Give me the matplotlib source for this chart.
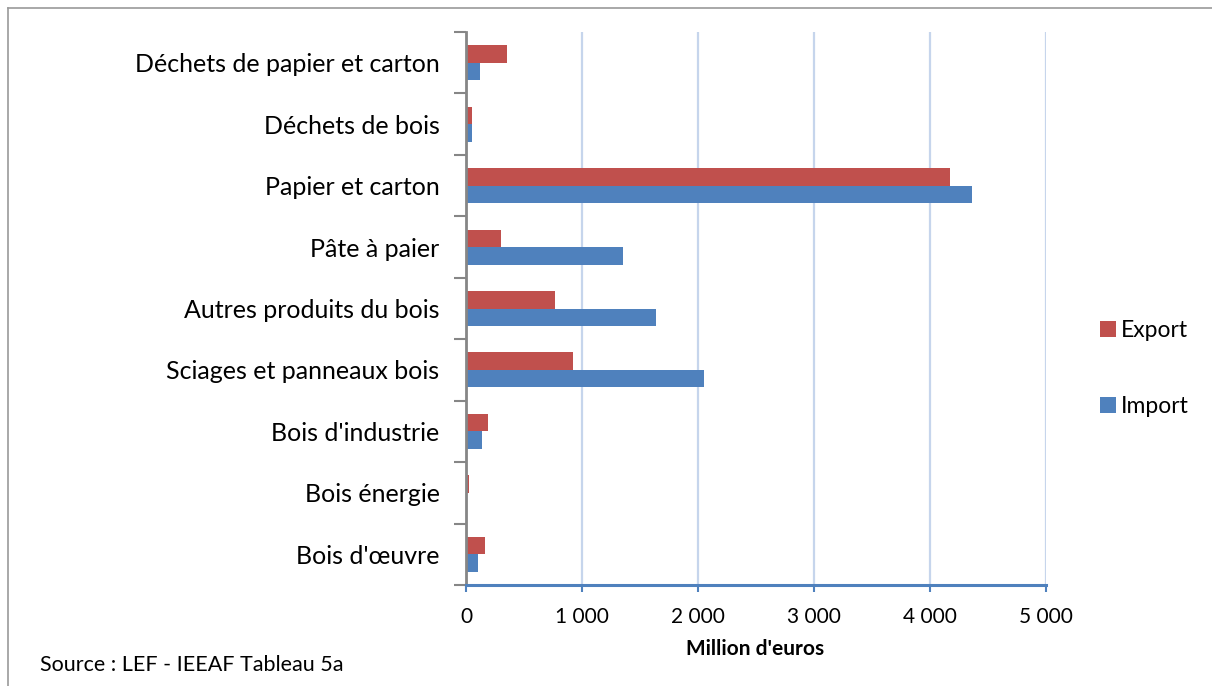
"""Commerce extérieur de la filière bois : import / export par produit (Mio €)."""

import matplotlib.pyplot as plt
from matplotlib.lines import Line2D
from matplotlib.ticker import FixedLocator

# ── Données ───────────────────────────────────────────────────────────────
produits = [
    "Bois d'œuvre",
    "Bois énergie",
    "Bois d'industrie",
    "Sciages et panneaux bois",
    "Autres produits du bois",
    "Pâte à paier",
    "Papier et carton",
    "Déchets de bois",
    "Déchets de papier et carton",
]
export_vals = [165, 25, 190, 920, 770, 300, 4175, 50, 355]
import_vals = [105, 0, 140, 2050, 1640, 1355, 4365, 50, 118]

x_ticks = [0, 1000, 2000, 3000, 4000, 5000]
x_tick_labels = ["0", "1 000", "2 000", "3 000", "4 000", "5 000"]

ROUGE = "#c0504d"
BLEU = "#4f81bd"
GRILLE = "#c6d5ec"
GRIS = "#868686"

plt.rcParams["font.family"] = ["Lato", "DejaVu Sans"]

W, H = 1212, 686
fig = plt.figure(figsize=(W / 100, H / 100), dpi=100)

# zone de tracé en pixels (gauche, haut, droite, bas)
x0, y0, x1, y1 = 466, 32, 1046, 585
ax = fig.add_axes([x0 / W, 1 - y1 / H, (x1 - x0) / W, (y1 - y0) / H])

pos = list(range(len(produits)))
h = 0.285
ax.barh([p + h / 2 for p in pos], export_vals, height=h, color=ROUGE,
        label="Export", zorder=3)
ax.barh([p - h / 2 for p in pos], import_vals, height=h, color=BLEU,
        label="Import", zorder=3)

ax.set_xlim(0, 5000)
ax.set_ylim(-0.5, len(produits) - 0.5)

# Axe X
ax.set_xticks(x_ticks)
ax.set_xticklabels(x_tick_labels, fontsize=15)
ax.tick_params(axis="x", direction="out", length=5, width=1.5, color=BLEU,
               pad=11)
ax.grid(axis="x", color=GRILLE, linewidth=1.6, zorder=0)

# Axe Y : libellés au centre, graduations aux limites des catégories
ax.set_yticks(pos)
ax.set_yticklabels(produits, fontsize=18)
ax.tick_params(axis="y", which="major", length=0, pad=19)
ax.yaxis.set_minor_locator(FixedLocator([p - 0.5 for p in range(len(produits) + 1)]))
ax.tick_params(axis="y", which="minor", direction="out", length=9, width=1.5,
               color=GRIS)

for s in ("top", "right"):
    ax.spines[s].set_visible(False)
ax.spines["left"].set_color(GRIS)
ax.spines["left"].set_linewidth(2)
ax.spines["left"].set_zorder(4)
ax.spines["bottom"].set_color(BLEU)
ax.spines["bottom"].set_linewidth(2.2)
ax.spines["bottom"].set_zorder(4)

# Titre de l'axe et source
fig.text(755 / W, 1 - 649 / H, "Million d'euros", fontsize=15,
         fontweight="bold", ha="center", va="center")
fig.text(40 / W, 1 - 665 / H, "Source : LEF - IEEAF Tableau 5a", fontsize=15.5,
         ha="left", va="center")

# Légende à droite
fig.legend(loc="center left", bbox_to_anchor=(1100 / W, 1 - 369 / H),
           frameon=False, fontsize=16.5, handlelength=0.7, handleheight=0.7,
           handletextpad=0.2, labelspacing=2.4, borderpad=0, borderaxespad=0)

# Bordure du cadre (haut et gauche)
fig.add_artist(Line2D([8 / W, 8 / W], [0, 1 - 8 / H], color="#9a9a9a",
                      linewidth=1.2, transform=fig.transFigure))
fig.add_artist(Line2D([8 / W, 1], [1 - 8 / H, 1 - 8 / H], color="#9a9a9a",
                      linewidth=1.2, transform=fig.transFigure))

fig.savefig("out.png", dpi=100)
